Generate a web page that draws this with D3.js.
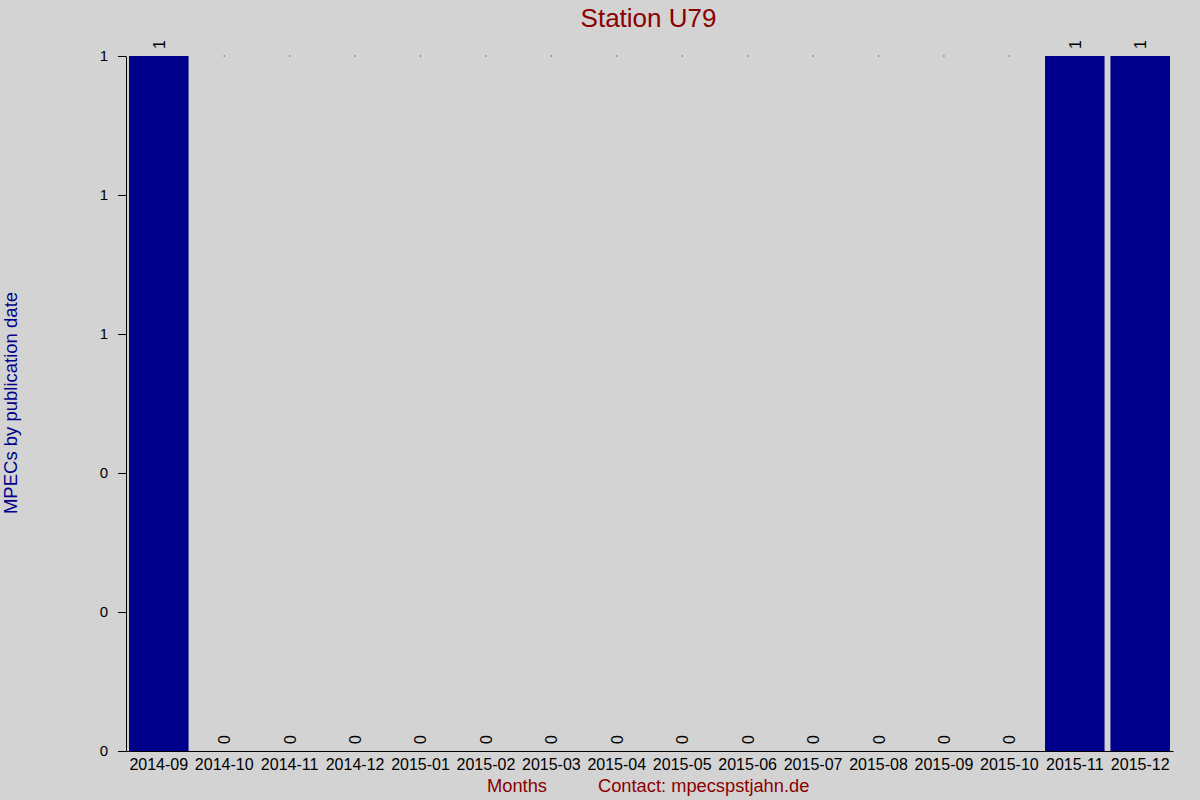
<!DOCTYPE html>
<html>
<head>
<meta charset="utf-8">
<script src="https://cdn.jsdelivr.net/npm/d3@7"></script>
<style>
  body { margin: 0; background: #d3d3d3; }
  svg { display: block; font-family: "Liberation Sans", Arial, sans-serif; }
</style>
</head>
<body>
<svg id="chart" width="1200" height="800"></svg>
<script>
// data
const months = ["2014-09", "2014-10", "2014-11", "2014-12", "2015-01", "2015-02", "2015-03",
  "2015-04", "2015-05", "2015-06", "2015-07", "2015-08", "2015-09", "2015-10", "2015-11", "2015-12"];
const mpecs = [1, 0, 0, 0, 0, 0, 0, 0, 0, 0, 0, 0, 0, 0, 1, 1];
const yTicks = [0, 0.2, 0.4, 0.6, 0.8, 1];

const title = "Station U79";
const xLabel = "Months";
const contact = "Contact: mpecspstjahn.de";
const yLabel = "MPECs by publication date";

const width = 1200, height = 800;
const margin = { top: 56, right: 27, bottom: 49, left: 126 };

const svg = d3.select("#chart");
svg.append("rect").attr("width", width).attr("height", height).attr("fill", "#d3d3d3");

const x = d3.scaleBand()
  .domain(months)
  .range([margin.left, width - margin.right])
  .paddingInner(0.09)
  .paddingOuter(0.046);

const y = d3.scaleLinear()
  .domain([0, 1])
  .range([height - margin.bottom, margin.top]);

// bars
svg.append("g")
  .selectAll("rect")
  .data(months.map((m, i) => ({ m, v: mpecs[i] })))
  .join("rect")
  .attr("x", d => x(d.m))
  .attr("y", d => y(d.v))
  .attr("width", x.bandwidth())
  .attr("height", d => y(0) - y(d.v))
  .attr("fill", "#00008b");

// tiny marks at top for empty months
svg.append("g")
  .selectAll("rect")
  .data(months.filter((m, i) => mpecs[i] === 0))
  .join("rect")
  .attr("x", d => x(d) + x.bandwidth() / 2 - 0.5)
  .attr("y", y(1) - 0.5)
  .attr("width", 1)
  .attr("height", 1)
  .attr("fill", "#222");

// value labels, rotated
svg.append("g")
  .selectAll("text")
  .data(months.map((m, i) => ({ m, v: mpecs[i] })))
  .join("text")
  .attr("transform", d => `translate(${x(d.m) + x.bandwidth() / 2 + 6},${y(d.v) - 7}) rotate(-90)`)
  .attr("text-anchor", "start")
  .attr("font-size", 16)
  .attr("fill", "#000")
  .text(d => d.v);

// y axis
const yAxis = svg.append("g")
  .attr("transform", `translate(${margin.left},0)`)
  .call(d3.axisLeft(y).tickValues(yTicks).tickFormat(d3.format(".0f"))
    .tickSize(8).tickSizeOuter(0).tickPadding(10));
yAxis.attr("font-size", 15).attr("font-family", null);
yAxis.selectAll("text").attr("fill", "#000");
yAxis.selectAll("line, path").attr("stroke", "#000");

// x axis
const xAxis = svg.append("g")
  .attr("transform", `translate(0,${y(0)})`)
  .call(d3.axisBottom(x).tickSize(0).tickSizeOuter(0).tickPadding(8));
xAxis.attr("font-size", 16).attr("font-family", null);
xAxis.selectAll("text").attr("fill", "#000");
xAxis.select(".domain").attr("stroke", "#000");

// titles
svg.append("text")
  .attr("x", 648.5).attr("y", 27)
  .attr("text-anchor", "middle")
  .attr("font-size", 26)
  .attr("fill", "#8b0000")
  .text(title);

svg.append("text")
  .attr("x", 517).attr("y", 792)
  .attr("text-anchor", "middle")
  .attr("font-size", 18.3)
  .attr("fill", "#8b0000")
  .text(xLabel);

svg.append("text")
  .attr("x", 598).attr("y", 792)
  .attr("font-size", 18.3)
  .attr("fill", "#8b0000")
  .text(contact);

svg.append("text")
  .attr("transform", "translate(17,403) rotate(-90)")
  .attr("text-anchor", "middle")
  .attr("font-size", 18.5)
  .attr("fill", "#00008b")
  .text(yLabel);
</script>
</body>
</html>
